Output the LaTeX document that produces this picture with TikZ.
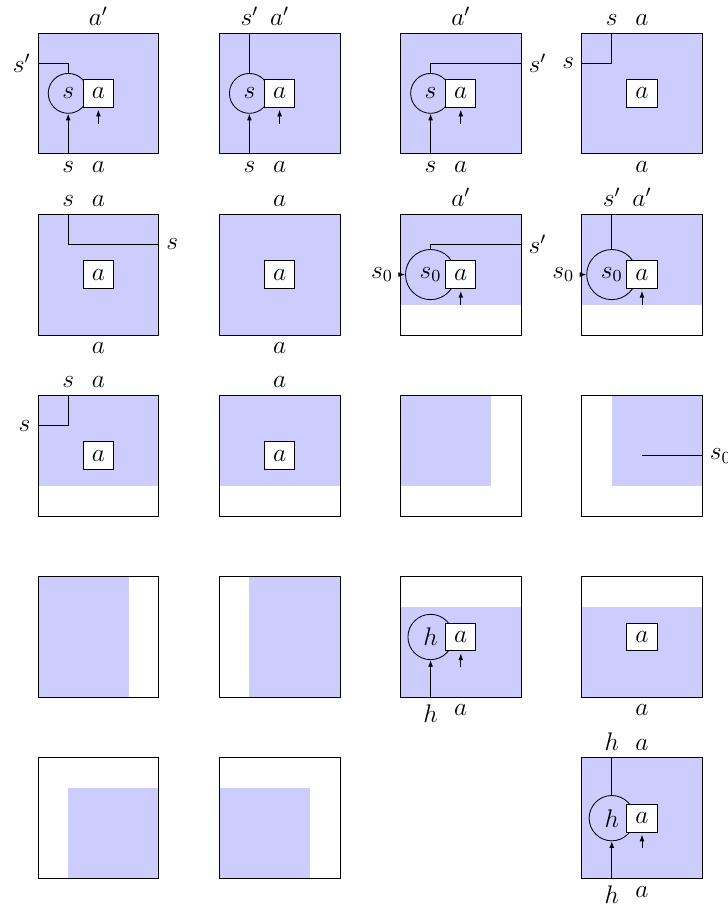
\documentclass[tikz,border=0pt]{standalone}
\usepackage{tikz}
\usetikzlibrary{arrows.meta}
\definecolor{CellBlue}{HTML}{CCCCFF}

\begin{document}
\begin{tikzpicture}[
  font=\large,
  blk/.style={draw, minimum size=2cm, inner sep=0pt, outer sep=0pt, anchor=south west},
  act/.style={draw, fill=white, minimum width=0.5cm, minimum height=0.46cm, inner sep=0pt},
  st/.style={circle, draw, minimum size=0.66cm, inner sep=0pt},
  st0/.style={st, minimum size=0.83cm},
  hid/.style={st, minimum size=0.75cm},
  arr/.style={-{Latex[length=1.1mm, width=0.8mm]}},
  uarr/.style={arr, shorten >=1pt},
  sh/.style={fill=CellBlue},
]
  \useasboundingbox (-0.629,0.546) rectangle (11.424,-14.504);

  % Row 1
  \begin{scope}[shift={(0,-2)}]
    \fill[sh] (0,0) rectangle (2,2);
    \node[blk] (q11) at (0,0) {};
    \node[st] (s11) at (0.5,1) {$s$};
    \node[act] (a11) at (1,1) {$a$};
    \node[below] (si11) at (0.5,0) {$s$};
    \node[below] (ai11) at (1,0) {$a$};
    \node[left] (so11) at (0,1.5) {$s'$};
    \node[above] (ao11) at (1,2) {$a'$};
    \coordinate (u11) at (1,0.5);
    \draw[arr] (si11.north) -- (s11);
    \draw[uarr] (u11) -- (a11);
    \draw (s11) |- (so11.east);
  \end{scope}

  \begin{scope}[shift={(3,-2)}]
    \fill[sh] (0,0) rectangle (2,2);
    \node[blk] (q12) at (0,0) {};
    \node[st] (s12) at (0.5,1) {$s$};
    \node[act] (a12) at (1,1) {$a$};
    \node[below] (si12) at (0.5,0) {$s$};
    \node[below] (ai12) at (1,0) {$a$};
    \node[above] (so12) at (0.5,2) {$s'$};
    \node[above] (ao12) at (1,2) {$a'$};
    \coordinate (u12) at (1,0.5);
    \draw[arr] (si12.north) -- (s12);
    \draw[uarr] (u12) -- (a12);
    \draw (s12) -- (so12.south);
  \end{scope}

  \begin{scope}[shift={(6,-2)}]
    \fill[sh] (0,0) rectangle (2,2);
    \node[blk] (q13) at (0,0) {};
    \node[st] (s13) at (0.5,1) {$s$};
    \node[act] (a13) at (1,1) {$a$};
    \node[below] (si13) at (0.5,0) {$s$};
    \node[below] (ai13) at (1,0) {$a$};
    \node[right] (so13) at (2,1.5) {$s'$};
    \node[above] (ao13) at (1,2) {$a'$};
    \coordinate (u13) at (1,0.5);
    \draw[arr] (si13.north) -- (s13);
    \draw[uarr] (u13) -- (a13);
    \draw (s13) |- (so13.west);
  \end{scope}

  \begin{scope}[shift={(9,-2)}]
    \fill[sh] (0,0) rectangle (2,2);
    \node[blk] (q14) at (0,0) {};
    \node[act] (a14) at (1,1) {$a$};
    \node[above] (si14) at (0.5,2) {$s$};
    \node[above] (ai14) at (1,2) {$a$};
    \node[left] (so14) at (0,1.5) {$s$};
    \node[below] (ao14) at (1,0) {$a$};
    \draw (si14.south) |- (so14.east);
  \end{scope}

  % Row 2
  \begin{scope}[shift={(0,-5)}]
    \fill[sh] (0,0) rectangle (2,2);
    \node[blk] (q21) at (0,0) {};
    \node[act] (a21) at (1,1) {$a$};
    \node[above] (si21) at (0.5,2) {$s$};
    \node[above] (ai21) at (1,2) {$a$};
    \node[right] (so21) at (2,1.5) {$s$};
    \node[below] (ao21) at (1,0) {$a$};
    \draw (si21.south) |- (so21.west);
  \end{scope}

  \begin{scope}[shift={(3,-5)}]
    \fill[sh] (0,0) rectangle (2,2);
    \node[blk] (q22) at (0,0) {};
    \node[act] (a22) at (1,1) {$a$};
    \node[above] (ai22) at (1,2) {$a$};
    \node[below] (ao22) at (1,0) {$a$};
  \end{scope}

  \begin{scope}[shift={(6,-5)}]
    \fill[sh] (0,0.5) rectangle (2,2);
    \node[blk] (q23) at (0,0) {};
    \node[st0] (s23) at (0.5,1) {$s_0$};
    \node[act] (a23) at (1,1) {$a$};
    \node[left] (li23) at (0,1) {$s_0$};
    \node[right] (so23) at (2,1.5) {$s'$};
    \node[above] (ao23) at (1,2) {$a'$};
    \coordinate (u23) at (1,0.5);
    \draw[arr] (li23.east) -- (s23);
    \draw[uarr] (u23) -- (a23);
    \draw (s23) |- (so23.west);
  \end{scope}

  \begin{scope}[shift={(9,-5)}]
    \fill[sh] (0,0.5) rectangle (2,2);
    \node[blk] (q24) at (0,0) {};
    \node[st0] (s24) at (0.5,1) {$s_0$};
    \node[act] (a24) at (1,1) {$a$};
    \node[left] (li24) at (0,1) {$s_0$};
    \node[above] (so24) at (0.5,2) {$s'$};
    \node[above] (ao24) at (1,2) {$a'$};
    \coordinate (u24) at (1,0.5);
    \draw[arr] (li24.east) -- (s24);
    \draw[uarr] (u24) -- (a24);
    \draw (s24) -- (so24.south);
  \end{scope}

  % Row 3
  \begin{scope}[shift={(0,-8)}]
    \fill[sh] (0,0.5) rectangle (2,2);
    \node[blk] (q31) at (0,0) {};
    \node[act] (a31) at (1,1) {$a$};
    \node[above] (si31) at (0.5,2) {$s$};
    \node[above] (ai31) at (1,2) {$a$};
    \node[left] (so31) at (0,1.5) {$s$};
    \draw (si31.south) |- (so31.east);
  \end{scope}

  \begin{scope}[shift={(3,-8)}]
    \fill[sh] (0,0.5) rectangle (2,2);
    \node[blk] (q32) at (0,0) {};
    \node[act] (a32) at (1,1) {$a$};
    \node[above] (ai32) at (1,2) {$a$};
  \end{scope}

  \begin{scope}[shift={(6,-8)}]
    \fill[sh] (0,0.5) rectangle (1.5,2);
    \node[blk] (q33) at (0,0) {};
  \end{scope}

  \begin{scope}[shift={(9,-8)}]
    \fill[sh] (0.5,0.5) rectangle (2,2);
    \node[blk] (q34) at (0,0) {};
    \coordinate (m34) at (1,1);
    \node[right] (so34) at (2,1) {$s_0$};
    \draw (m34) -- (so34.west);
  \end{scope}

  % Row 4
  \begin{scope}[shift={(0,-11)}]
    \fill[sh] (0,0) rectangle (1.5,2);
    \node[blk] (q41) at (0,0) {};
  \end{scope}

  \begin{scope}[shift={(3,-11)}]
    \fill[sh] (0.5,0) rectangle (2,2);
    \node[blk] (q42) at (0,0) {};
  \end{scope}

  \begin{scope}[shift={(6,-11)}]
    \fill[sh] (0,0) rectangle (2,1.5);
    \node[blk] (q43) at (0,0) {};
    \node[hid] (h43) at (0.5,1) {$h$};
    \node[act] (a43) at (1,1) {$a$};
    \node[below] (hi43) at (0.5,0) {$h$};
    \node[below] (ai43) at (1,0) {$a$};
    \coordinate (u43) at (1,0.5);
    \draw[arr] (hi43.north) -- (h43);
    \draw[uarr] (u43) -- (a43);
  \end{scope}

  \begin{scope}[shift={(9,-11)}]
    \fill[sh] (0,0) rectangle (2,1.5);
    \node[blk] (q44) at (0,0) {};
    \node[act] (a44) at (1,1) {$a$};
    \node[below] (ai44) at (1,0) {$a$};
  \end{scope}

  % Row 5
  \begin{scope}[shift={(0,-14)}]
    \fill[sh] (0.5,0) rectangle (2,1.5);
    \node[blk] (q51) at (0,0) {};
  \end{scope}

  \begin{scope}[shift={(3,-14)}]
    \fill[sh] (0,0) rectangle (1.5,1.5);
    \node[blk] (q52) at (0,0) {};
  \end{scope}

  \begin{scope}[shift={(9,-14)}]
    \fill[sh] (0,0) rectangle (2,2);
    \node[blk] (q54) at (0,0) {};
    \node[hid] (h54) at (0.5,1) {$h$};
    \node[act] (a54) at (1,1) {$a$};
    \node[below] (hi54) at (0.5,0) {$h$};
    \node[below] (ai54) at (1,0) {$a$};
    \node[above] (ho54) at (0.5,2) {$h$};
    \node[above] (ao54) at (1,2) {$a$};
    \coordinate (u54) at (1,0.5);
    \draw[arr] (hi54.north) -- (h54);
    \draw[uarr] (u54) -- (a54);
    \draw (h54) -- (ho54.south);
  \end{scope}
\end{tikzpicture}
\end{document}
